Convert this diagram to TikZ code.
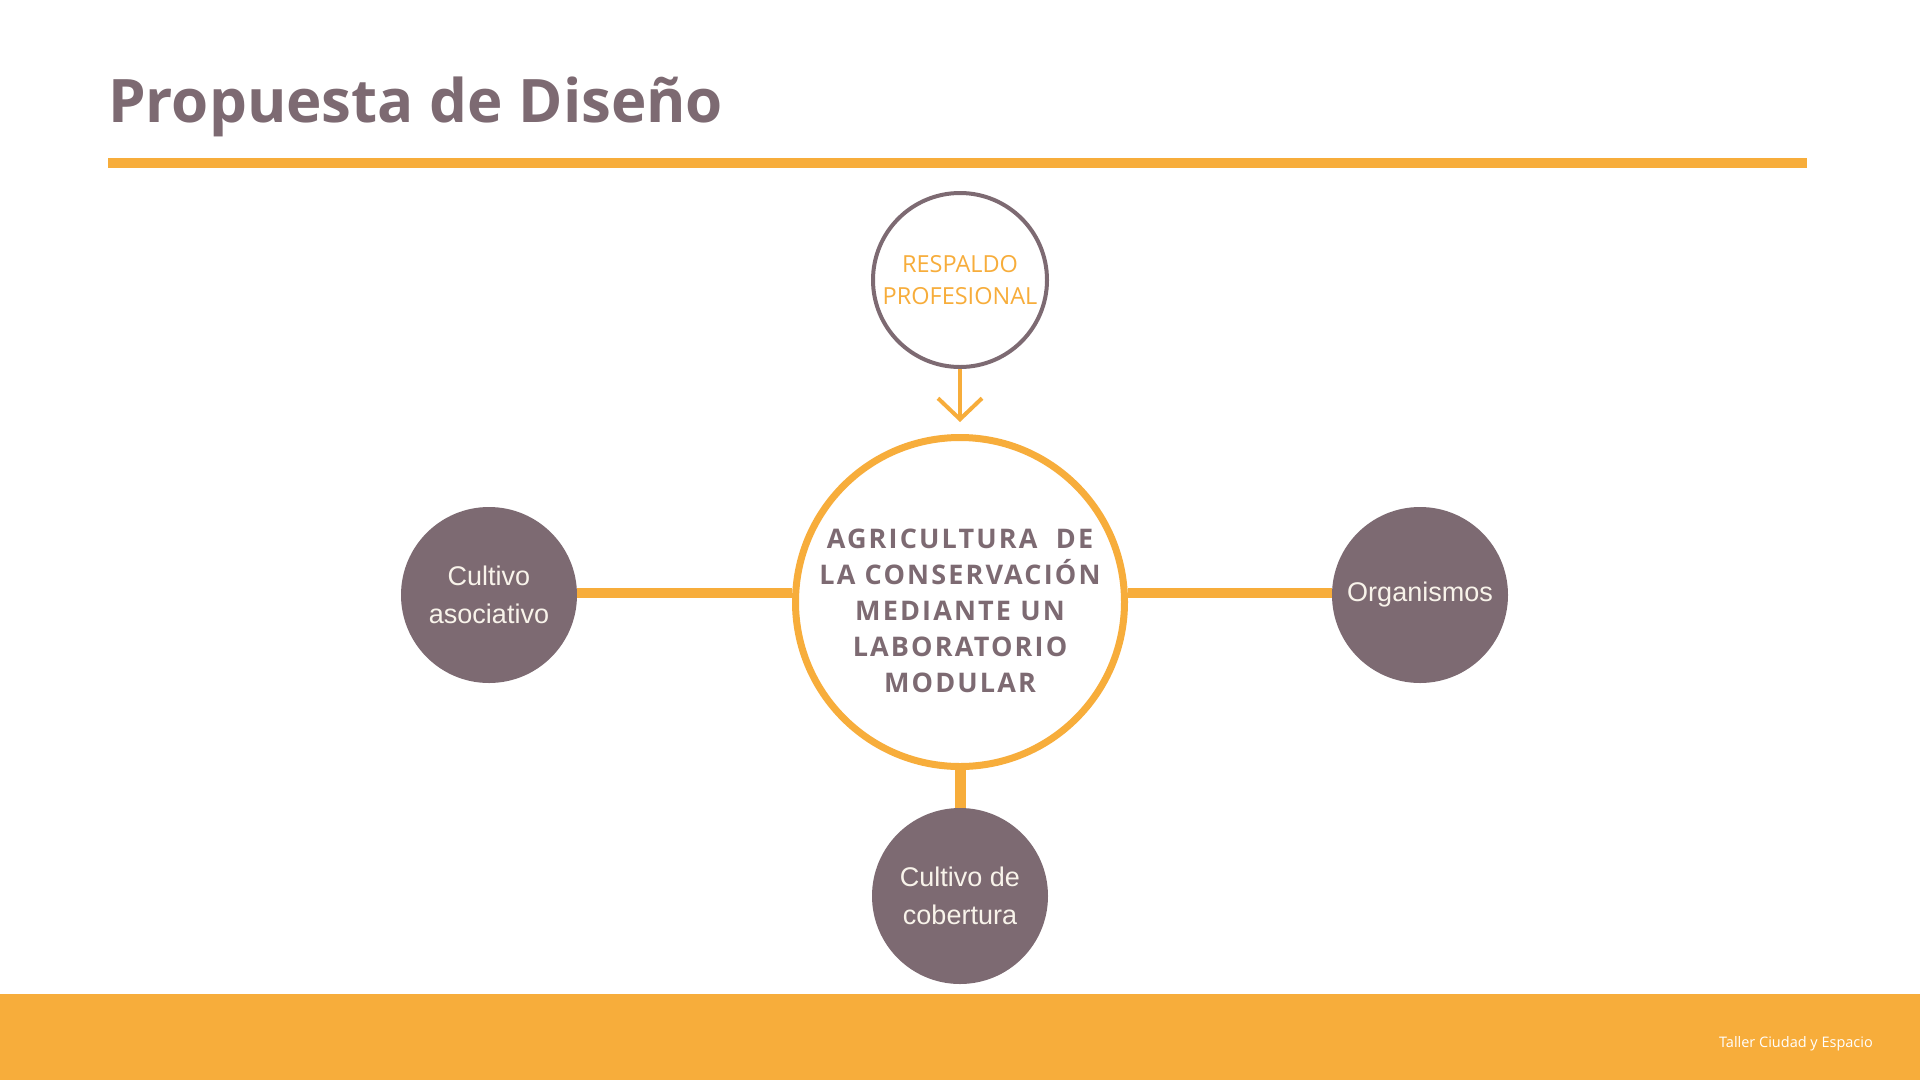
\documentclass[tikz,border=0pt]{standalone}
\usepackage{fontspec}
\setmainfont{Open Sans}
\newfontfamily\leaffont{Liberation Sans}
\newfontfamily\hubfont[LetterSpace=8.0]{Open Sans}
\usetikzlibrary{arrows.meta}
\definecolor{mauve}{HTML}{7D6A72}
\definecolor{amber}{HTML}{F7AD3B}
\definecolor{cream}{HTML}{F8F3EA}

\begin{document}
\begin{tikzpicture}[x=1pt,y=-1pt,
  hub/.style={circle, draw=amber, line width=7pt, fill=white, minimum size=329pt, inner sep=0pt},
  hubtext/.style={align=center, inner sep=0pt, text=mauve, font=\hubfont\bfseries\fontsize{27}{36}\selectfont},
  ring/.style={circle, draw=mauve, line width=4pt, fill=white, minimum size=174pt,
    inner sep=0pt, align=center, text=amber, font=\fontsize{23.5}{32}\selectfont},
  leaf/.style={circle, fill=mauve, minimum size=176pt, inner sep=0pt, align=center,
    text=cream, font=\leaffont\fontsize{27}{38}\selectfont},
  link/.style={draw=amber, line width=10pt},
  pointer/.style={draw=amber, line width=4pt, -{Straight Barb[length=21pt,width=44pt]}}
]
\useasboundingbox[fill=white] (0,0) rectangle (1920,1080);

% ===================== Header =====================
\node[anchor=base west, inner sep=0pt, text=mauve,
  font=\bfseries\fontsize{60}{70}\selectfont] (title) at (108,122) {Propuesta de Diseño};
\draw[amber, line width=10pt] (108,163) -- (1807,163);

% ===================== Diagram =====================
% Circles
\node[ring] (resp)  at (960,280) {RESPALDO\\PROFESIONAL};
\node[hub]  (hub)   at (960,602) {};
\node[hubtext] (hublab) at (960,611) {AGRICULTURA\ \ DE\\LA CONSERVACIÓN\\MEDIANTE UN\\LABORATORIO\\MODULAR};
\node[leaf] (assoc) at (489,595) {Cultivo\\asociativo};
\node[leaf] (organ) at (1420,595) {Organismos};
\node[leaf] (cover) at (960,896) {Cultivo de\\cobertura};

% Connectors
\coordinate (tip) at (960,422);
\draw[pointer] (resp.south) -- (tip);
\draw[link] ([yshift=2pt]assoc.east) -- ([yshift=2pt]assoc.east -| hub.west);
\draw[link] ([yshift=2pt]organ.west) -- ([yshift=2pt]organ.west -| hub.east);
\draw[link, line width=11pt] (hub.south) -- (cover.north);

% ===================== Footer =====================
\fill[amber] (0,994) rectangle (1920,1080);
\node[anchor=east, inner sep=0pt, text=white, font=\fontsize{14.5}{16}\selectfont]
  (credit) at (1873,1044) {Taller Ciudad y Espacio};
\end{tikzpicture}
\end{document}
